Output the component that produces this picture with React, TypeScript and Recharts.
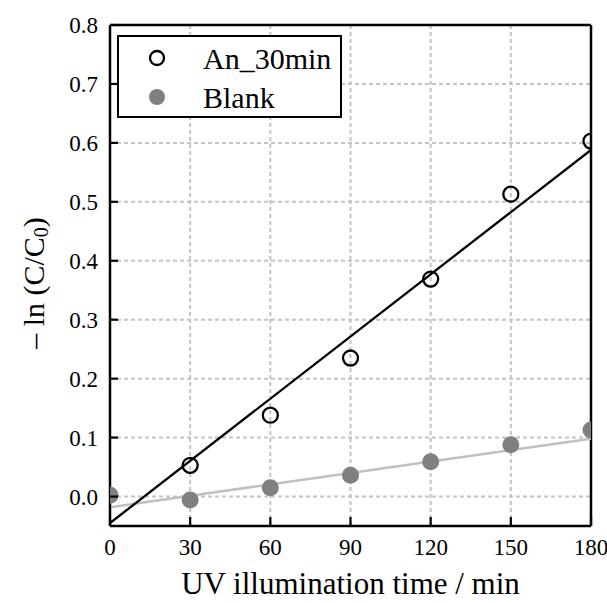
import React from 'react';
import {
  ComposedChart,
  XAxis,
  YAxis,
  CartesianGrid,
  Scatter,
  Line,
  ReferenceLine,
  Label,
} from 'recharts';

const times = [0, 30, 60, 90, 120, 150, 180];
const an30 = [null, 0.053, 0.138, 0.235, 0.369, 0.513, 0.603];
const blank = [0.002, -0.006, 0.015, 0.036, 0.059, 0.088, 0.113];

// fitted straight lines, end points
const fitTimes = [0, 180];
const an30Fit = [-0.045, 0.588];
const blankFit = [-0.018, 0.098];

const xTicks = [0, 30, 60, 90, 120, 150, 180];
const yTicks = [0, 0.1, 0.2, 0.3, 0.4, 0.5, 0.6, 0.7, 0.8];

const FONT = '"Liberation Serif", "Times New Roman", serif';
const GRAY = '#808080';

const toPoints = (xs: number[], ys: (number | null)[]) =>
  xs.map((t, i) => ({ t, v: ys[i] })).filter((p) => p.v !== null);

const an30Data = toPoints(times, an30);
const blankData = toPoints(times, blank);
const an30FitData = toPoints(fitTimes, an30Fit);
const blankFitData = toPoints(fitTimes, blankFit);

const OpenDot = (p: any) => (
  <circle cx={p.cx} cy={p.cy} r={7.5} fill="none" stroke="#000" strokeWidth={2.3} />
);
const FilledDot = (p: any) => <circle cx={p.cx} cy={p.cy} r={8.5} fill={GRAY} />;

const XTick = ({ x, y, payload }: any) => (
  <g>
    <line x1={x} x2={x} y1={y - 12} y2={y - 21} stroke="#000" strokeWidth={2.2} />
    <text x={x} y={y} dy="0.72em" textAnchor="middle" fontSize={23} fontFamily={FONT} fill="#000">
      {payload.value}
    </text>
  </g>
);

const YTick = ({ x, y, payload }: any) => (
  <g>
    <line x1={x + 12} x2={x + 20} y1={y} y2={y} stroke="#000" strokeWidth={2.2} />
    <text x={x} y={y} dy="0.35em" textAnchor="end" fontSize={23} fontFamily={FONT} fill="#000">
      {Number(payload.value).toFixed(1)}
    </text>
  </g>
);

export default function App() {
  return (
    <div style={{ position: 'absolute', left: 0, top: 0, width: 607, height: 603, background: '#fff' }}>
      <ComposedChart width={607} height={603} margin={{ top: 25, right: 16, bottom: 0, left: 0 }}>
        <CartesianGrid
          stroke="#c4c4c4"
          strokeWidth={2}
          strokeDasharray="4 3"
          horizontalValues={yTicks}
          verticalValues={xTicks}
        />
        <XAxis
          dataKey="t"
          type="number"
          domain={[0, 180]}
          ticks={xTicks}
          allowDataOverflow
          height={77}
          tickSize={0}
          tickMargin={12}
          tickLine={false}
          tick={<XTick />}
          axisLine={{ stroke: '#000', strokeWidth: 2.5 }}
        >
          <Label
            content={({ viewBox }: any) => (
              <text
                x={viewBox.x + viewBox.width / 2}
                y={viewBox.y + 68}
                textAnchor="middle"
                fontSize={31}
                fontFamily={FONT}
                fill="#000"
              >
                UV illumination time / min
              </text>
            )}
          />
        </XAxis>
        <YAxis
          type="number"
          domain={[-0.05, 0.8]}
          ticks={yTicks}
          allowDataOverflow
          width={110}
          tickSize={0}
          tickMargin={12}
          tickLine={false}
          tick={<YTick />}
          axisLine={{ stroke: '#000', strokeWidth: 2.5 }}
        >
          <Label
            content={() => (
              <text
                x={33}
                y={283}
                transform="rotate(-90 33 283)"
                textAnchor="middle"
                dominantBaseline="central"
                fontSize={30}
                fontFamily={FONT}
                fill="#000"
              >
                – ln (C/C
                <tspan fontSize={20} dy={8}>0</tspan>
                <tspan dy={-8}>)</tspan>
              </text>
            )}
          />
        </YAxis>
        <ReferenceLine y={0.8} stroke="#000" strokeWidth={2.5} />
        <ReferenceLine x={180} stroke="#000" strokeWidth={2.5} />
        <Line
          data={blankFitData}
          dataKey="v"
          stroke="#c0c0c0"
          strokeWidth={2.5}
          dot={false}
          isAnimationActive={false}
        />
        <Line
          data={an30FitData}
          dataKey="v"
          stroke="#000"
          strokeWidth={2.3}
          dot={false}
          isAnimationActive={false}
        />
        <Scatter data={blankData} dataKey="v" shape={FilledDot} isAnimationActive={false} />
        <Scatter data={an30Data} dataKey="v" shape={OpenDot} isAnimationActive={false} />
      </ComposedChart>
      <div
        style={{
          position: 'absolute',
          left: 117,
          top: 35,
          width: 221,
          height: 79,
          border: '2px solid #000',
          background: '#fff',
        }}
      >
        <svg width={221} height={79} style={{ position: 'absolute', left: 0, top: 0 }}>
          <circle cx={38} cy={21} r={7} fill="none" stroke="#000" strokeWidth={2.3} />
          <circle cx={38} cy={60} r={8} fill={GRAY} />
          <text x={84} y={32} fontSize={30} fontFamily={FONT} fill="#000">
            An_30min
          </text>
          <text x={84} y={71} fontSize={30} fontFamily={FONT} fill="#000">
            Blank
          </text>
        </svg>
      </div>
    </div>
  );
}
